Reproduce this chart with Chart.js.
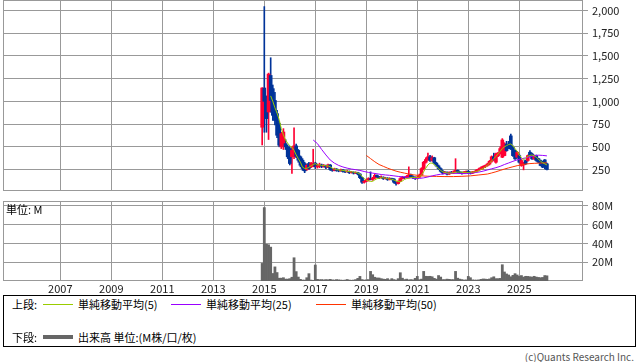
<!DOCTYPE html>
<html>
<head>
<meta charset="utf-8">
<script src="https://cdn.jsdelivr.net/npm/chart.js@4.4.1/dist/chart.umd.min.js"></script>
<style>
  body { margin:0; background:#fff; width:638px; height:362px; position:relative; overflow:hidden;
         font-family:"Noto Sans CJK JP","Noto Sans",sans-serif; }
  canvas { position:absolute; left:0; }
  #price { top:0; }
  #volume { top:200px; }
  #unit { position:absolute; left:6px; top:201px; font-size:11px; color:#000; }
  #legend { position:absolute; left:3px; top:295px; width:631px; height:50px; border:1px solid #000;
            font-size:11px; color:#000; }
  #legend span { position:absolute; line-height:14px; white-space:nowrap; }
  #legend i { position:absolute; display:block; width:30px; }
  #copy { position:absolute; right:4px; top:349px; font-size:10px; color:#555; }
</style>
</head>
<body>
<canvas id="price" width="638" height="191"></canvas>
<canvas id="volume" width="638" height="95"></canvas>
<div id="unit">単位: M</div>
<div id="legend">
  <span style="left:8px;top:1px">上段:</span>
  <i style="left:39px;top:8px;height:1px;background:#99cc00"></i>
  <span style="left:74px;top:1px">単純移動平均(5)</span>
  <i style="left:167px;top:8px;height:1px;background:#9900ff"></i>
  <span style="left:202px;top:1px">単純移動平均(25)</span>
  <i style="left:312px;top:8px;height:1px;background:#ff3300"></i>
  <span style="left:347px;top:1px">単純移動平均(50)</span>
  <span style="left:8px;top:34px">下段:</span>
  <i style="left:39px;top:39px;height:4px;background:#666"></i>
  <span style="left:74px;top:34px">出来高 単位:(M株/口/枚)</span>
</div>
<div id="copy">(c)Quants Research Inc.</div>
<script>
// monthly candles, first month = Dec 2014
const startYear = 2014, startMonth = 12;

const opens = [715,1147,1010,883,1285,1140,1010,865,755,500,500,535,500,480,390,390,510,460,390,352,
  316,250,316,279,290,320,280,290,300,285,295,275,300,250,240,255,240,235,245,230,
  225,230,215,220,210,215,200,160,110,120,135,150,140,155,185,170,160,165,150,155,
  140,150,145,110,95,120,150,165,160,160,190,170,160,155,165,190,260,330,360,390,
  350,380,320,290,260,230,210,220,200,215,210,225,240,220,215,210,220,230,215,210,
  225,230,245,255,270,285,295,310,340,390,330,400,430,385,403,531,520,620,495,458,
  385,403,294,300,349,349,440,421,367,403,370,349,330,356,312];
const highs = [1150,2043,1060,1311,1480,1180,1100,900,780,660,700,580,520,500,500,710,530,470,400,370,
  330,310,330,330,473,330,310,320,310,305,300,310,305,260,265,260,245,255,250,235,
  240,235,230,225,225,220,205,165,130,145,160,224,165,200,190,175,180,170,165,160,
  160,155,150,115,125,160,175,170,185,279,200,180,170,175,200,270,340,380,430,405,
  400,385,330,300,270,240,230,225,225,230,235,369,245,230,225,230,235,240,225,230,
  235,250,265,280,290,300,320,350,400,430,430,440,500,590,545,560,560,640,510,465,
  450,420,360,330,355,410,458,430,410,410,375,355,340,360,320];
const lows = [520,660,660,580,880,790,740,600,500,480,470,470,370,300,206,370,380,330,280,240,
  215,240,250,270,280,260,265,270,270,275,260,270,240,230,235,230,225,230,220,215,
  220,205,210,200,205,190,150,96,100,115,125,135,130,150,160,150,155,140,145,130,
  135,135,100,78,90,115,145,150,155,155,160,150,140,145,160,185,250,320,350,340,
  340,310,280,250,220,200,205,190,195,205,205,220,210,205,200,205,210,205,200,205,
  215,225,240,250,255,270,285,300,330,350,320,390,420,380,400,450,480,470,395,360,
  375,320,285,246,305,340,395,360,360,340,325,290,270,257,245];
const closes = [1147,1000,810,1300,1010,846,790,627,517,645,663,500,390,316,460,510,395,352,297,261,
  235,297,261,316,320,280,290,300,285,295,275,300,250,240,255,240,235,245,230,225,
  230,215,220,210,215,200,160,110,120,135,150,140,155,185,170,160,165,150,155,140,
  150,145,110,95,120,150,165,160,175,190,170,160,155,165,190,260,330,360,390,350,
  380,320,290,260,230,210,220,200,215,210,225,240,220,215,210,220,230,215,210,225,
  230,245,255,270,285,295,310,340,390,360,421,430,480,575,531,458,500,476,403,367,
  440,330,349,320,313,403,403,367,403,349,330,294,276,276,250];
// volume in millions
const volumes = [18.7,78,39,38.5,36,8,15,9,3,3,3.5,2,2,2.5,4,24.7,10,4.2,1.8,1,
  1,3.5,7.8,1,0.7,17,1.8,1.4,1.5,1.2,1.5,1.3,1.8,1.2,1,1.5,1.2,1,0.8,1,
  1.6,1,0.8,1,1.5,2.8,4.9,1.5,1,1.2,1.5,10.2,6.7,4,3.2,3.2,2.5,2,1.8,2.5,
  1.2,2.5,1.5,1,2.5,8.8,3,1.5,2,1.2,1.5,1.2,2.8,4.9,1.4,2,10.2,5,4.9,5,
  4.5,2.8,2,5.8,4.2,1.5,1.5,2,1.8,1.5,1.5,10.2,3,2,1.5,1,1.2,4.9,3.5,1.2,
  1,1,1.2,1.8,2.2,2,1.8,2.2,3.5,4.5,2.5,2.5,2.8,17.3,9.6,7.5,6.4,4.5,6,7.8,
  6.4,4.9,5.8,4.2,5,4.9,4.5,4.2,5,4.2,3.8,3.5,3.8,5.8,5.5];
// moving averages
const ma5 = [null,null,null,null,1060,1000,930,870,800,700,630,575,540,510,495,460,410,370,330,275,
  262,262,275,290,305,315,300,300,295,295,290,290,280,265,255,248,245,243,240,235,
  230,228,225,222,218,212,200,175,150,133,125,118,120,135,148,155,158,160,155,150,
  145,142,135,125,118,115,125,140,150,155,160,165,160,160,165,190,225,265,300,320,
  320,305,285,260,240,225,218,212,210,212,215,220,222,222,220,218,218,218,220,222,
  224,228,238,250,262,275,300,320,345,370,395,421,450,480,500,513,525,531,510,480,
  450,410,380,355,375,395,405,410,400,385,365,340,325,312,300];
const ma25At = [24,26,28,30,32,34,36,38,40,42,44,46,48,50,52,54,56,58,60,62,64,66,68,70,72,74,76,78,
  80,82,84,86,88,90,92,94,96,98,100,102,104,106,108,110,112,114,116,118,120,122,124,126,128,130,132,134];
const ma25 = [575,535,470,410,355,320,295,278,265,255,248,240,228,218,210,203,195,190,186,180,174,170,165,158,152,152,158,168,
  180,190,198,204,207,208,207,205,205,208,215,222,232,245,258,270,285,305,322,340,356,368,378,390,400,408,405,400];
const ma50At = [49,51,53,55,57,59,61,63,65,67,69,71,73,75,78,82,86,90,94,98,102,106,108,110,112,114,116,118,120,122,124,126,128,130,132,134];
const ma50 = [405,370,335,305,285,265,248,232,220,210,200,192,186,180,176,174,172,172,175,180,190,200,212,225,240,255,268,280,292,302,310,315,318,320,322,323];

const yearTicks = [2007,2009,2011,2013,2015,2017,2019,2021,2023,2025];
const priceTicks = [250,500,750,1000,1250,1500,1750,2000];
const volumeTicks = [20,40,60,80];

const monthX = i => startYear + (startMonth - 1 + i) / 12;
const UP = '#ff0033', DOWN = '#003399', GRID = '#999999';
const candleColor = ctx => closes[ctx.dataIndex] >= opens[ctx.dataIndex] ? UP : DOWN;
const font = { family: "'Noto Sans CJK JP','Noto Sans',sans-serif", size: 11 };

const frame = {
  id: 'frame',
  beforeDatasetsDraw(chart) {
    const { ctx, chartArea: a } = chart;
    ctx.save();
    ctx.strokeStyle = GRID;
    ctx.lineWidth = 1;
    ctx.strokeRect(a.left + 0.5, a.top + 0.5, a.right - a.left - 1, a.bottom - a.top - 1);
    ctx.restore();
  }
};

function xAxis(showLabels) {
  return {
    type: 'linear', min: 2004.753, max: 2027.498, offset: false,
    grid: { color: GRID, drawTicks: false, offset: false },
    border: { display: false },
    afterBuildTicks: s => { s.ticks = yearTicks.map(v => ({ value: v })); },
    afterFit: s => { s.height = showLabels ? 14 : 0; s.paddingLeft = 0; s.paddingRight = 0; },
    ticks: { display: showLabels, padding: 1, color: '#222', font, maxRotation: 0, callback: v => String(v) }
  };
}

function yAxis(min, max, ticks, fmt) {
  return {
    position: 'right', min, max,
    grid: { color: GRID, tickLength: 5 },
    border: { display: false },
    afterBuildTicks: s => { s.ticks = ticks.map(v => ({ value: v })); },
    afterFit: s => { s.width = 55; s.paddingTop = 0; s.paddingBottom = 0; },
    ticks: { padding: 4, color: '#222', font, callback: fmt }
  };
}

new Chart(document.getElementById('price'), {
  type: 'bar',
  data: {
    datasets: [
      { type: 'line', label: 'MA5', order: 1, borderColor: '#99cc00', borderWidth: 1, pointRadius: 0,
        data: ma5.map((v, i) => ({ x: monthX(i), y: v })) },
      { type: 'line', label: 'MA25', order: 2, borderColor: '#9900ff', borderWidth: 1, pointRadius: 0,
        data: ma25.map((v, k) => ({ x: monthX(ma25At[k]), y: v })) },
      { type: 'line', label: 'MA50', order: 3, borderColor: '#ff3300', borderWidth: 1, pointRadius: 0,
        data: ma50.map((v, k) => ({ x: monthX(ma50At[k]), y: v })) },
      { label: 'body', order: 4, grouped: false, barThickness: 3, backgroundColor: candleColor,
        data: opens.map((o, i) => ({ x: monthX(i), y: [o, closes[i]] })) },
      { label: 'wick', order: 5, grouped: false, barThickness: 1, backgroundColor: candleColor,
        data: lows.map((l, i) => ({ x: monthX(i), y: [l, highs[i]] })) }
    ]
  },
  options: {
    responsive: false, animation: false,
    layout: { padding: { left: 3, top: 0, right: 0, bottom: 0 } },
    plugins: { legend: { display: false }, tooltip: { enabled: false } },
    scales: {
      x: xAxis(false),
      y: yAxis(13.4, 2115.6, priceTicks, v => v.toLocaleString('en-US'))
    }
  },
  plugins: [frame]
});

new Chart(document.getElementById('volume'), {
  type: 'bar',
  data: {
    datasets: [{
      label: '出来高', backgroundColor: '#666666', barPercentage: 1, categoryPercentage: 1,
      data: volumes.map((v, i) => ({ x: monthX(i), y: v }))
    }]
  },
  options: {
    responsive: false, animation: false,
    layout: { padding: { left: 3, top: 1, right: 0, bottom: 0 } },
    plugins: { legend: { display: false }, tooltip: { enabled: false } },
    scales: {
      x: xAxis(true),
      y: yAxis(0, 85, volumeTicks, v => v + 'M')
    }
  },
  plugins: [frame]
});
</script>
</body>
</html>
